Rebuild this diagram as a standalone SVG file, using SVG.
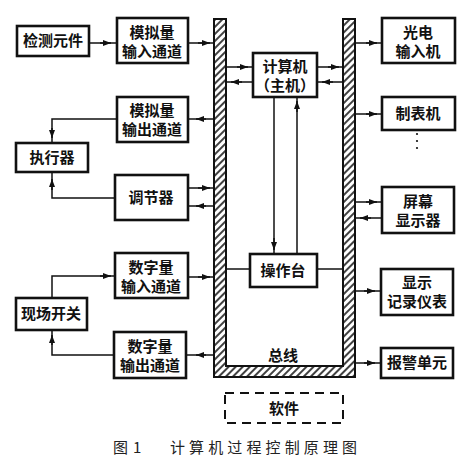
<svg xmlns="http://www.w3.org/2000/svg" width="473" height="470" viewBox="0 0 473 470">
<style>
.bx{fill:#fff;stroke:#111;stroke-width:2.6}
.t{font-family:"Noto Sans CJK SC","Noto Sans",sans-serif;font-size:15px;font-weight:700;fill:#111;text-anchor:middle}
.ln{fill:none;stroke:#111;stroke-width:1.5}
.ar{fill:none;stroke:#111;stroke-width:1.5;marker-end:url(#a)}
.cap{font-family:"Noto Sans CJK SC","Noto Sans",sans-serif;font-size:15px;fill:#222}
</style>
<defs>
<marker id="a" viewBox="0 0 8 6" refX="8" refY="3" markerWidth="8" markerHeight="6" markerUnits="userSpaceOnUse" orient="auto">
<path d="M0,0 L8,3 L0,6 Z" fill="#111"/>
</marker>
<pattern id="h" patternUnits="userSpaceOnUse" width="5" height="10" patternTransform="rotate(45)">
<rect width="5" height="10" fill="#fff"/>
<line x1="1" y1="0" x2="1" y2="10" stroke="#111" stroke-width="1.6"/>
</pattern>
</defs>
<rect width="473" height="470" fill="#fff"/>

<g id="bus">
<path d="M214,19 H226 V366 H343 V19 H355 V377 H214 Z" fill="url(#h)" stroke="#111" stroke-width="2"/>
<text class="t" x="283" y="361">总线</text>
</g>

<g id="connectors">
<path class="ln" d="M89,43 H117"/><path class="ar" d="M100,43 H111"/>
<path class="ln" d="M188,43 H214"/><path class="ar" d="M198,43 H210"/>
<path class="ln" d="M214,119 H188"/><path class="ar" d="M206,119 H196"/>
<path class="ln" d="M117,119 H52 V143"/><path class="ar" d="M52,128 V138"/>
<path class="ln" d="M115,198 H52 V172"/><path class="ar" d="M52,190 V179"/>
<path class="ln" d="M188,188 H214"/><path class="ar" d="M198,188 H210"/>
<path class="ln" d="M214,206 H188"/><path class="ar" d="M206,206 H196"/>
<path class="ln" d="M52,298 V276 H115"/><path class="ar" d="M100,276 H111"/>
<path class="ln" d="M188,277 H214"/><path class="ar" d="M198,277 H210"/>
<path class="ln" d="M214,355 H186"/><path class="ar" d="M206,355 H196"/>
<path class="ln" d="M114,355 H52 V330"/><path class="ar" d="M52,345 V335"/>
<path class="ln" d="M226,67 H253"/><path class="ar" d="M237,67 H248"/>
<path class="ln" d="M253,82 H226"/><path class="ar" d="M242,82 H231"/>
<path class="ln" d="M317,67 H343"/><path class="ar" d="M328,67 H339"/>
<path class="ln" d="M343,82 H317"/><path class="ar" d="M333,82 H322"/>
<path class="ln" d="M274,97 V254"/><path class="ar" d="M274,238 V250"/>
<path class="ln" d="M297,254 V97"/><path class="ar" d="M297,112 V101"/>
<path class="ln" d="M226,269 H250"/>
<path class="ln" d="M317,269 H343"/>
<path class="ln" d="M355,43 H382"/><path class="ar" d="M366,43 H377"/>
<path class="ln" d="M355,114 H382"/><path class="ar" d="M366,114 H377"/>
<path class="ln" d="M355,202 H382"/><path class="ar" d="M366,202 H377"/>
<path class="ln" d="M382,218 H355"/><path class="ar" d="M371,218 H360"/>
<path class="ln" d="M355,291 H381"/><path class="ar" d="M364,291 H375"/>
<path class="ln" d="M355,363 H381"/><path class="ar" d="M364,363 H375"/>
</g>

<g id="n-jiance"><rect class="bx" x="17" y="26" width="72" height="30"/><text class="t" x="53" y="46">检测元件</text></g>
<g id="n-mnsr"><rect class="bx" x="117" y="18" width="71" height="45"/><text class="t" x="152" y="38">模拟量</text><text class="t" x="152" y="57">输入通道</text></g>
<g id="n-mnsc"><rect class="bx" x="117" y="97" width="71" height="45"/><text class="t" x="152" y="116">模拟量</text><text class="t" x="152" y="135">输出通道</text></g>
<g id="n-zhixing"><rect class="bx" x="16" y="143" width="72" height="29"/><text class="t" x="52" y="163">执行器</text></g>
<g id="n-tiaojie"><rect class="bx" x="115" y="175" width="73" height="45"/><text class="t" x="151" y="203">调节器</text></g>
<g id="n-szsr"><rect class="bx" x="115" y="253" width="73" height="45"/><text class="t" x="151" y="273">数字量</text><text class="t" x="151" y="292">输入通道</text></g>
<g id="n-xianchang"><rect class="bx" x="16" y="298" width="71" height="32"/><text class="t" x="51" y="319">现场开关</text></g>
<g id="n-szsc"><rect class="bx" x="114" y="332" width="72" height="46"/><text class="t" x="150" y="352">数字量</text><text class="t" x="150" y="371">输出通道</text></g>
<g id="n-jisuanji"><rect class="bx" x="253" y="53" width="64" height="44"/><text class="t" x="285" y="72">计算机</text><text class="t" x="285" y="91">（主机）</text></g>
<g id="n-caozuo"><rect class="bx" x="250" y="254" width="67" height="33"/><text class="t" x="283" y="276">操作台</text></g>
<g id="n-guangdian"><rect class="bx" x="382" y="18" width="73" height="45"/><text class="t" x="418" y="38">光电</text><text class="t" x="418" y="57">输入机</text></g>
<g id="n-zhibiao"><rect class="bx" x="382" y="97" width="73" height="33"/><text class="t" x="418" y="119">制表机</text>
<circle cx="417" cy="134" r="1.1" fill="#111"/><circle cx="417" cy="141" r="1.1" fill="#111"/><circle cx="417" cy="148" r="1.1" fill="#111"/></g>
<g id="n-pingmu"><rect class="bx" x="382" y="187" width="72" height="46"/><text class="t" x="418" y="207">屏幕</text><text class="t" x="418" y="226">显示器</text></g>
<g id="n-jilu"><rect class="bx" x="381" y="269" width="72" height="46"/><text class="t" x="417" y="288">显示</text><text class="t" x="417" y="307">记录仪表</text></g>
<g id="n-baojing"><rect class="bx" x="381" y="348" width="72" height="30"/><text class="t" x="417" y="368">报警单元</text></g>
<g id="n-ruanjian"><rect x="225" y="393" width="118" height="30" fill="none" stroke="#111" stroke-width="2" stroke-dasharray="9,6"/><text class="t" x="284" y="414">软件</text></g>

<g id="caption">
<text class="cap" x="113" y="453">图</text>
<text class="cap" x="133" y="453">1</text>
<text class="cap" x="170" y="453" textLength="187" lengthAdjust="spacing">计算机过程控制原理图</text>
</g>
</svg>
